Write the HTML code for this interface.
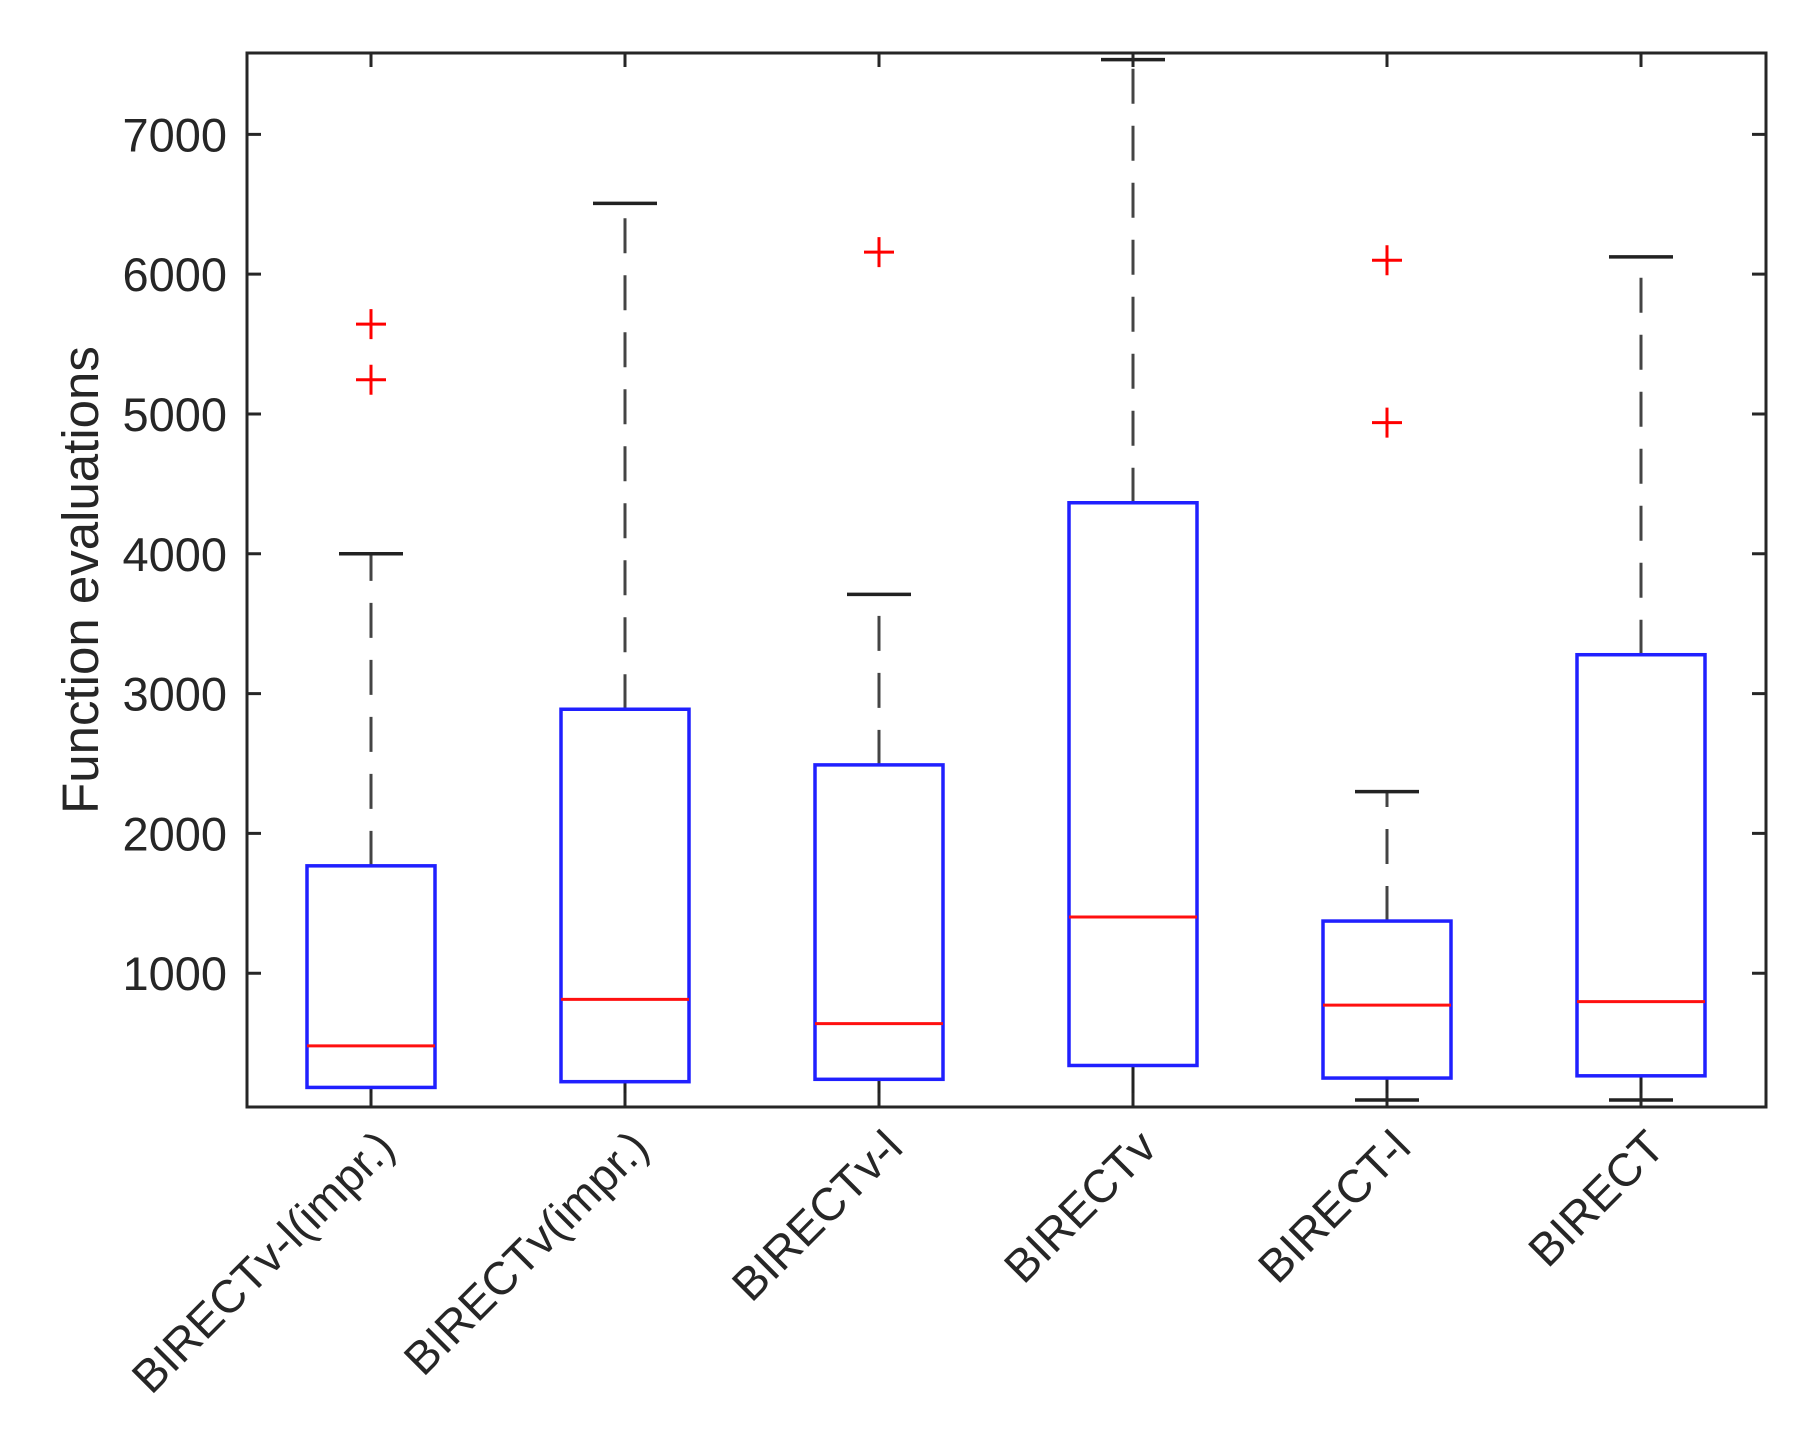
<!DOCTYPE html>
<html><head><meta charset="utf-8"><style>
html,body{margin:0;padding:0;background:#fff;}
svg{display:block;font-family:"Liberation Sans",Arial,sans-serif;}
</style></head><body>
<svg id="chart" width="1814" height="1437" viewBox="0 0 1814 1437" xmlns="http://www.w3.org/2000/svg">
<defs><clipPath id="clip"><rect x="247" y="53" width="1519" height="1054"/></clipPath></defs>
<rect x="0" y="0" width="1814" height="1437" fill="#fff"/>
<g id="marks" clip-path="url(#clip)"></g>
<g id="axes"></g>
<text transform="translate(98,580) rotate(-90)" text-anchor="middle" font-size="51" fill="#262626">Function evaluations</text>
</svg>
<script>
const categories = ["BIRECTv-l(impr.)","BIRECTv(impr.)","BIRECTv-l","BIRECTv","BIRECT-l","BIRECT"];
const whiskerLow = [40, 40, 40, 40, 93, 93];
const q1Values = [183, 224, 241, 340, 250, 266];
const medianValues = [480, 813, 639, 1402, 772, 797];
const q3Values = [1768, 2888, 2490, 4365, 1373, 3278];
const whiskerHigh = [4000, 6506, 3710, 7535, 2299, 6124];
const outliers = [[5643,5245],[],[6158],[],[6100,4938],[]];
const yTicks = [1000,2000,3000,4000,5000,6000,7000];
const yMin = 43, yMax = 7582;

const L=247,R=1766,T=53,B=1107;
const ns="http://www.w3.org/2000/svg";
function y(v){return B-(v-yMin)/(yMax-yMin)*(B-T);}
function x(i){return 371+i*254;}
function mk(tag,attrs,parent){const e=document.createElementNS(ns,tag);for(const k in attrs)e.setAttribute(k,attrs[k]);parent.appendChild(e);return e;}
const marks=document.getElementById('marks'), axes=document.getElementById('axes');
const hw=64, cw=32;
categories.forEach((c,i)=>{
  const cx=x(i);
  const g=mk('g',{},marks);
  
  
  let w=mk('line',{x1:cx,x2:cx,y1:y(q3Values[i]),y2:y(whiskerHigh[i]),stroke:'#444','stroke-width':3,'stroke-dasharray':'35 22'},g);
  
  
  w=mk('line',{x1:cx,x2:cx,y1:y(q1Values[i]),y2:y(whiskerLow[i]),stroke:'#222','stroke-width':3},g);
  
  
  let cap=mk('line',{x1:cx-cw,x2:cx+cw,y1:y(whiskerHigh[i]),y2:y(whiskerHigh[i]),stroke:'#222','stroke-width':3.5},g);
  
  
  cap=mk('line',{x1:cx-cw,x2:cx+cw,y1:y(whiskerLow[i]),y2:y(whiskerLow[i]),stroke:'#222','stroke-width':3.5},g);
  
  
  const b=mk('rect',{x:cx-hw,y:y(q3Values[i]),width:2*hw,height:y(q1Values[i])-y(q3Values[i]),fill:'none',stroke:'#2020ff','stroke-width':3.5},g);
  
  
  const m=mk('line',{x1:cx-hw,x2:cx+hw,y1:y(medianValues[i]),y2:y(medianValues[i]),stroke:'#ff1010','stroke-width':3},g);
  
  
  outliers[i].forEach(v=>{
    const p=mk('path',{d:`M${cx-15},${y(v)}H${cx+15}M${cx},${y(v)-15}V${y(v)+15}`,stroke:'#ff0000','stroke-width':3,fill:'none'},g);
    
    
  });
});
const fr=mk('rect',{x:L,y:T,width:R-L,height:B-T,fill:'none',stroke:'#262626','stroke-width':3},axes);


yTicks.forEach(v=>{
  const yy=y(v);
  const t=mk('path',{d:`M${L},${yy}H${L+14}M${R},${yy}H${R-14}`,stroke:'#262626','stroke-width':3},axes);
  
  
  const tx=mk('text',{x:227,y:yy+17,'text-anchor':'end','font-size':47,fill:'#262626'},axes);
  tx.textContent=v;
  
  
});
categories.forEach((c,i)=>{
  const cx=x(i);
  const t=mk('path',{d:`M${cx},${T}V${T+14}M${cx},${B}V${B-14}`,stroke:'#262626','stroke-width':3},axes);
  
  
  const tx=mk('text',{transform:`translate(${cx+26},${1150}) rotate(-45)`,'text-anchor':'end','font-size':46,fill:'#262626'},axes);
  tx.textContent=c;
  
  
});
</script>
</body></html>
